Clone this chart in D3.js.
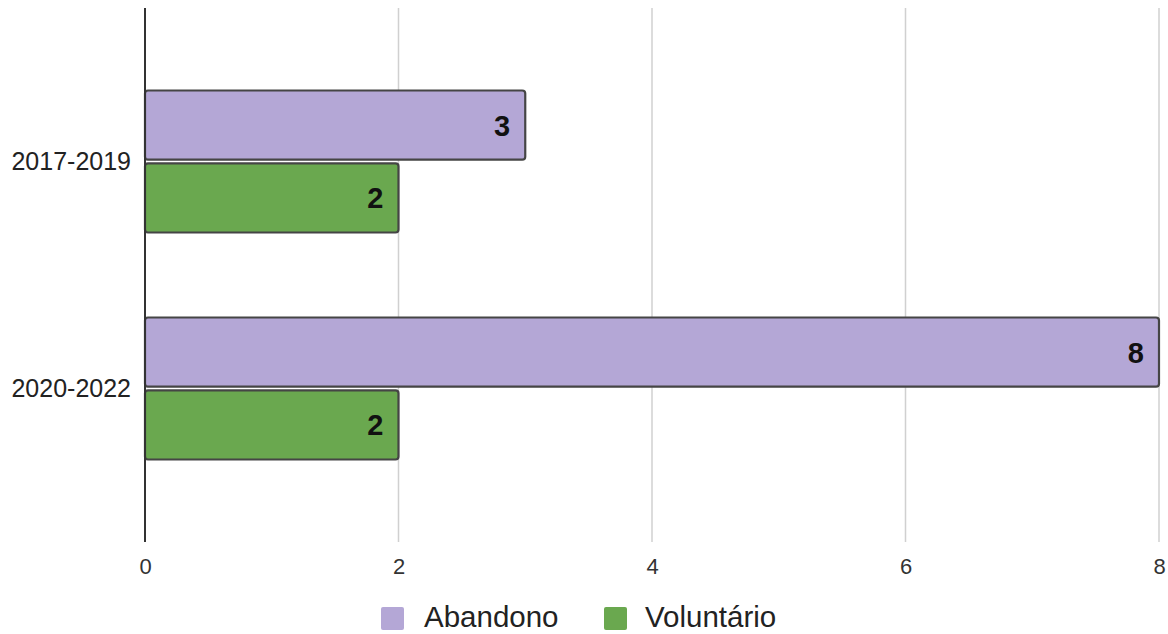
<!DOCTYPE html>
<html>
<head>
<meta charset="utf-8">
<script src="https://cdn.jsdelivr.net/npm/d3@7"></script>
<style>
  html, body { margin: 0; padding: 0; background: #fff; }
  svg { display: block; font-family: "Liberation Sans", Arial, sans-serif; }
</style>
</head>
<body>
<svg id="chart" width="1168" height="634"></svg>
<script>
// Periods and the two kinds of departure counted in each
const periods = ["2017-2019", "2020-2022"];
const seriesNames = ["Abandono", "Voluntário"];
const abandono = [3, 8];
const voluntario = [2, 2];
const xTicks = [0, 2, 4, 6, 8];
const colors = ["#b4a7d6", "#6aa84f"];

const FONT = '"Liberation Sans", Arial, sans-serif';
const svg = d3.select("#chart");
const plot = { left: 145, right: 1159, top: 8, bottom: 542 };

const x = d3.scaleLinear().domain([0, 8]).range([plot.left, plot.right]);
const y = d3.scalePoint().domain(periods).range([plot.top, plot.bottom]).padding(0.676);
const sub = d3.scaleBand().domain(seriesNames).range([-71, 71]).paddingInner(0.05);
const color = d3.scaleOrdinal().domain(seriesNames).range(colors);

// Vertical grid lines
svg.append("g")
  .selectAll("line")
  .data(xTicks.filter(d => d !== 0))
  .join("line")
  .attr("x1", d => x(d)).attr("x2", d => x(d))
  .attr("y1", plot.top).attr("y2", plot.bottom)
  .attr("stroke", "#d0d0d0").attr("stroke-width", 1.5);

// X axis tick labels
const xAxis = d3.axisBottom(x).tickValues(xTicks).tickSize(0).tickPadding(0);
const gx = svg.append("g")
  .attr("transform", `translate(0,${plot.bottom + 24})`)
  .call(xAxis);
gx.attr("font-family", FONT).attr("font-size", 22);
gx.select(".domain").remove();
gx.selectAll("text").attr("dy", "0.35em").attr("fill", "#333");

// Bars
const rows = periods.map((p, i) => ({
  period: p,
  values: [
    { key: seriesNames[0], value: abandono[i] },
    { key: seriesNames[1], value: voluntario[i] }
  ]
}));

const groups = svg.append("g")
  .selectAll("g")
  .data(rows)
  .join("g")
  .attr("transform", d => `translate(0,${y(d.period)})`);

groups.selectAll("rect")
  .data(d => d.values)
  .join("rect")
  .attr("x", x(0))
  .attr("y", d => sub(d.key))
  .attr("width", d => x(d.value) - x(0))
  .attr("height", sub.bandwidth())
  .attr("rx", 3).attr("ry", 3)
  .attr("fill", d => color(d.key))
  .attr("stroke", "#454545")
  .attr("stroke-width", 2.2);

groups.selectAll("text.val")
  .data(d => d.values)
  .join("text")
  .attr("class", "val")
  .attr("x", d => x(d.value) - 15)
  .attr("y", d => sub(d.key) + sub.bandwidth() / 2)
  .attr("dy", "0.36em")
  .attr("text-anchor", "end")
  .attr("font-size", 29)
  .attr("font-weight", "bold")
  .attr("fill", "#111")
  .text(d => d.value);

// Baseline at zero
svg.append("line")
  .attr("x1", x(0)).attr("x2", x(0))
  .attr("y1", plot.top).attr("y2", plot.bottom)
  .attr("stroke", "#333").attr("stroke-width", 2);

// Category labels
const yAxis = d3.axisLeft(y).tickSize(0).tickPadding(14);
const gy = svg.append("g").attr("transform", `translate(${plot.left},0)`).call(yAxis);
gy.attr("font-family", FONT).attr("font-size", 25);
gy.select(".domain").remove();
gy.selectAll("text").attr("fill", "#222");

// Legend
const legendItems = [
  { key: seriesNames[0], x: 381, tx: 424 },
  { key: seriesNames[1], x: 604, tx: 645 }
];
const legend = svg.append("g");
legend.selectAll("rect")
  .data(legendItems)
  .join("rect")
  .attr("x", d => d.x).attr("y", 607)
  .attr("width", 23).attr("height", 23)
  .attr("rx", 2)
  .attr("fill", d => color(d.key));
legend.selectAll("text")
  .data(legendItems)
  .join("text")
  .attr("x", d => d.tx).attr("y", 617)
  .attr("dy", "0.35em")
  .attr("font-size", 29.5)
  .attr("font-family", FONT)
  .attr("fill", "#222")
  .text(d => d.key);
</script>
</body>
</html>
